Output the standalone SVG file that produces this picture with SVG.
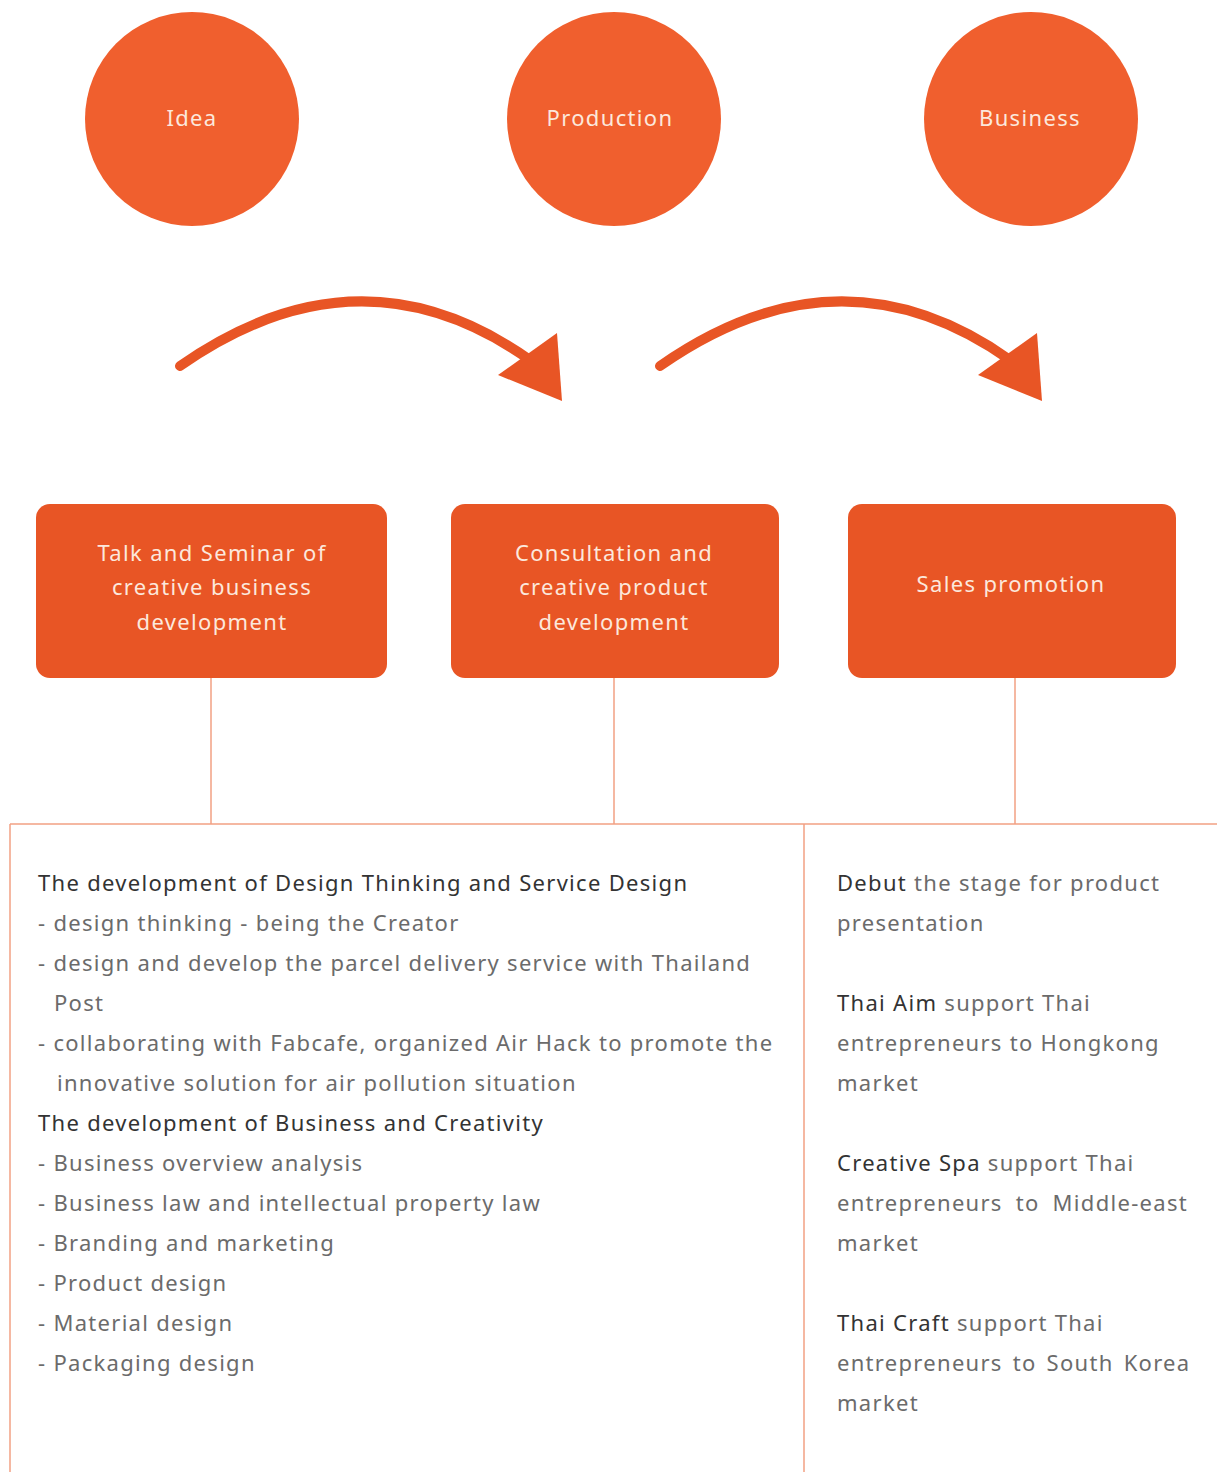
<svg xmlns="http://www.w3.org/2000/svg" width="1217" height="1472" viewBox="0 0 1217 1472">
  <style>
    .stage { fill: #F05F2E; }
    .box { fill: #E85525; }
    .lbl { font-family: "Noto Sans", "Open Sans", sans-serif; font-size: 22px; fill: #FCE8DC; text-anchor: middle; letter-spacing: 1.35px; }
    .link { stroke: #F2A083; stroke-width: 1.5; fill: none; }
    .flow { stroke: #E85525; stroke-width: 10; fill: none; stroke-linecap: round; }
    .head { fill: #E85525; }
    .body { font-family: "Noto Sans", "Open Sans", sans-serif; font-size: 22px; letter-spacing: 1.3px; fill: #6B6B6B; }
    .dark { fill: #333333; }
  </style>

  <!-- stages -->
  <g id="stage-idea">
    <circle class="stage" cx="192" cy="119" r="107"/>
    <text class="lbl" x="192" y="126">Idea</text>
  </g>
  <g id="stage-production">
    <circle class="stage" cx="614" cy="119" r="107"/>
    <text class="lbl" x="610" y="126">Production</text>
  </g>
  <g id="stage-business">
    <circle class="stage" cx="1031" cy="119" r="107"/>
    <text class="lbl" x="1030" y="126">Business</text>
  </g>

  <!-- activity boxes -->
  <g id="box-talk">
    <rect class="box" x="36" y="504" width="351" height="174" rx="14"/>
    <text class="lbl" x="212" y="561">Talk and Seminar of</text>
    <text class="lbl" x="212" y="595">creative business</text>
    <text class="lbl" x="212" y="630">development</text>
  </g>
  <g id="box-consult">
    <rect class="box" x="451" y="504" width="328" height="174" rx="14"/>
    <text class="lbl" x="614" y="561">Consultation and</text>
    <text class="lbl" x="614" y="595">creative product</text>
    <text class="lbl" x="614" y="630">development</text>
  </g>
  <g id="box-sales">
    <rect class="box" x="848" y="504" width="328" height="174" rx="14"/>
    <text class="lbl" x="1011" y="592">Sales promotion</text>
  </g>

  <!-- connectors -->
  <g id="connectors">
    <path class="flow" d="M180 366 Q 360 240 530 360"/>
    <polygon class="head" points="498,375 557,333 562,401"/>
    <path class="flow" d="M660 366 Q 840 240 1010 360"/>
    <polygon class="head" points="978,375 1037,333 1042,401"/>
    <line class="link" x1="211" y1="678" x2="211" y2="824"/>
    <line class="link" x1="614" y1="678" x2="614" y2="824"/>
    <line class="link" x1="1015" y1="678" x2="1015" y2="824"/>
    <line class="link" x1="10" y1="824" x2="1217" y2="824"/>
    <line class="link" x1="10" y1="824" x2="10" y2="1472"/>
    <line class="link" x1="804" y1="824" x2="804" y2="1472"/>
  </g>

  <!-- left detail column -->
  <g id="detail-left" class="body">
    <text x="38" y="891" class="dark">The development of Design Thinking and Service Design</text>
    <text x="38" y="931">- design thinking - being the Creator</text>
    <text x="38" y="971">- design and develop the parcel delivery service with Thailand</text>
    <text x="54" y="1011">Post</text>
    <text x="38" y="1051">- collaborating with Fabcafe, organized Air Hack to promote the</text>
    <text x="57" y="1091">innovative solution for air pollution situation</text>
    <text x="38" y="1131" class="dark">The development of Business and Creativity</text>
    <text x="38" y="1171">- Business overview analysis</text>
    <text x="38" y="1211">- Business law and intellectual property law</text>
    <text x="38" y="1251">- Branding and marketing</text>
    <text x="38" y="1291">- Product design</text>
    <text x="38" y="1331">- Material design</text>
    <text x="38" y="1371">- Packaging design</text>
  </g>

  <!-- right detail column -->
  <g id="detail-right" class="body">
    <text x="837" y="891"><tspan class="dark">Debut</tspan> the stage for product</text>
    <text x="837" y="931">presentation</text>
    <text x="837" y="1011"><tspan class="dark">Thai Aim</tspan> support Thai</text>
    <text x="837" y="1051">entrepreneurs to Hongkong</text>
    <text x="837" y="1091">market</text>
    <text x="837" y="1171"><tspan class="dark">Creative Spa</tspan> support Thai</text>
    <text x="837" y="1211" word-spacing="6">entrepreneurs to Middle-east</text>
    <text x="837" y="1251">market</text>
    <text x="837" y="1331"><tspan class="dark">Thai Craft</tspan> support Thai</text>
    <text x="837" y="1371" word-spacing="3">entrepreneurs to South Korea</text>
    <text x="837" y="1411">market</text>
  </g>
</svg>
